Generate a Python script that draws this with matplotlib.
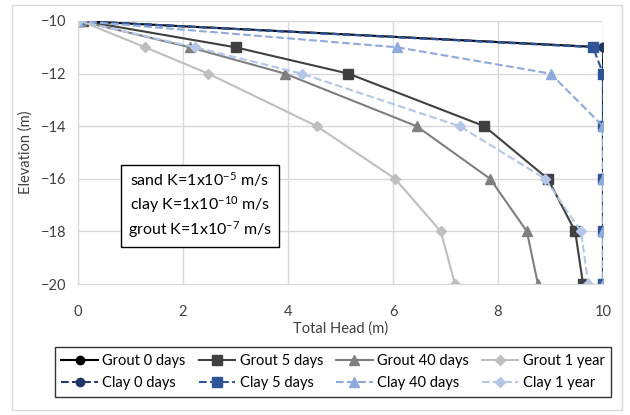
import matplotlib
matplotlib.use("Agg")
import matplotlib.pyplot as plt
from matplotlib.patches import Rectangle

plt.rcParams['font.family'] = ['Lato', 'DejaVu Sans']
plt.rcParams['mathtext.fontset'] = 'custom'
plt.rcParams['mathtext.rm'] = 'Lato'
plt.rcParams['mathtext.default'] = 'regular'

elev = [-10, -11, -12, -14, -16, -18, -20]

grout_0d = [0, 10, 10, 10, 10, 10, 10]
grout_5d = [0.1, 3.0, 5.15, 7.74, 8.95, 9.47, 9.62]
grout_40d = [0.05, 2.13, 3.94, 6.45, 7.85, 8.55, 8.76]
grout_1y = [0.05, 1.28, 2.48, 4.55, 6.04, 6.91, 7.18]

clay_0d = [0, 10, 10, 10, 10, 10, 10]
clay_5d = [0, 9.81, 10, 10, 10, 10, 10]
clay_40d = [0, 6.08, 9.0, 10, 10, 10, 10]
clay_1y = [0, 2.23, 4.26, 7.27, 8.9, 9.58, 9.72]

labels = ["Grout 0 days", "Grout 5 days", "Grout 40 days", "Grout 1 year",
          "Clay 0 days", "Clay 5 days", "Clay 40 days", "Clay 1 year"]

fig = plt.figure(figsize=(6.3, 4.15), dpi=100)
ax = fig.add_axes([78/630, 1 - 284/415, 525/630, 263/415])

# outer chart border
fig.patches.append(Rectangle((12/630, 5/415), 610/630, 405/415, transform=fig.transFigure,
                             fill=False, edgecolor='#d9d9d9', linewidth=1))

h = []
h += ax.plot(grout_0d, elev, '-', color='black', marker='o', ms=6, lw=1.5, label=labels[0])
h += ax.plot(grout_5d, elev, '-', color='#404040', marker='s', ms=7, lw=1.5, label=labels[1])
h += ax.plot(grout_40d, elev, '-', color='#7f7f7f', marker='^', ms=7, lw=1.5, label=labels[2])
h += ax.plot(grout_1y, elev, '-', color='#bfbfbf', marker='D', ms=5, lw=1.5, label=labels[3])

h += ax.plot(clay_0d, elev, '--', color='#203864', marker='o', ms=6, lw=1.5, label=labels[4])
h += ax.plot(clay_5d, elev, '--', color='#2f5597', marker='s', ms=7, lw=1.5, label=labels[5])
h += ax.plot(clay_40d, elev, '--', color='#8faadc', marker='^', ms=7, lw=1.5, label=labels[6])
h += ax.plot(clay_1y, elev, '--', color='#b4c7e7', marker='D', ms=5, lw=1.5, label=labels[7])

ax.set_xlim(0, 10)
ax.set_ylim(-20, -10)
ax.set_xticks([0, 2, 4, 6, 8, 10])
ax.set_yticks([-20, -18, -16, -14, -12, -10])
ax.grid(True, color='#d9d9d9', lw=1)
ax.set_axisbelow(True)
for s in ax.spines.values():
    s.set_visible(False)
ax.spines['left'].set_visible(True)
ax.spines['left'].set_color('#d9d9d9')
ax.spines['bottom'].set_visible(True)
ax.spines['bottom'].set_color('#d9d9d9')
ax.tick_params(length=0, labelsize=10.5, pad=8)
ax.tick_params(axis='x', pad=15)
for lab in ax.get_xticklabels() + ax.get_yticklabels():
    lab.set_color('#404040')

ax.set_xlabel("Total Head (m)", fontsize=10.5, color='#404040', labelpad=2)
ax.set_ylabel("Elevation (m)", fontsize=10.5, color='#404040', labelpad=6)

ax.text(2.32, -17.0, "sand K=1x10$^{-5}$ m/s\nclay K=1x10$^{-10}$ m/s\ngrout K=1x10$^{-7}$ m/s",
        ha='center', va='center', fontsize=11.5, linespacing=1.3,
        bbox=dict(boxstyle='square,pad=0.45', facecolor='white', edgecolor='black', lw=1))

# row-wise legend order
order = [0, 4, 1, 5, 2, 6, 3, 7]
leg = fig.legend([h[i] for i in order], [labels[i] for i in order],
                 loc='center', bbox_to_anchor=(333/630, 1 - 372/415), ncol=4,
                 fontsize=10.5, frameon=True, fancybox=False, edgecolor='black',
                 handlelength=2.5, columnspacing=0.9, handletextpad=0.3,
                 borderpad=0.45, labelspacing=0.55)
leg.get_frame().set_linewidth(1)

fig.savefig("out.png", dpi=100)
